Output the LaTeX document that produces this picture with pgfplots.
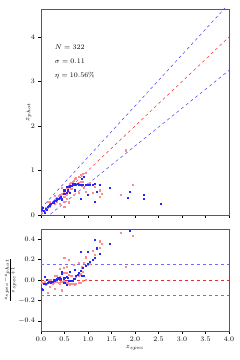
\documentclass[border=0pt]{standalone}
\usepackage{pgfplots}
\usepackage{pgfplotstable}
\pgfplotsset{compat=1.18}
\pgfplotstableread{
zs zp
0.03 0.12
0.05 0.15
0.06 0.10
0.08 0.05
0.10 0.14
0.12 0.12
0.15 0.18
0.18 0.20
0.20 0.22
0.22 0.25
0.25 0.27
0.28 0.28
0.30 0.31
0.32 0.32
0.35 0.34
0.37 0.35
0.38 0.36
0.40 0.38
0.42 0.40
0.45 0.36
0.45 0.33
0.48 0.47
0.50 0.47
0.55 0.62
0.55 0.50
0.58 0.55
0.60 0.62
0.62 0.64
0.65 0.66
0.68 0.70
0.70 0.68
0.72 0.70
0.75 0.68
0.78 0.70
0.80 0.68
0.85 0.68
0.88 0.80
0.90 0.68
0.92 0.85
0.95 0.68
1.00 0.68
1.05 0.68
1.10 0.68
1.15 0.69
1.25 0.68
1.15 0.30
1.00 0.45
0.85 0.35
1.47 0.60
1.90 0.51
1.85 0.38
2.20 0.45
2.20 0.35
2.55 0.25
1.20 0.52
0.50 0.55
0.35 0.35
0.72 0.55
0.62 0.50
}\bluetab
\pgfplotstableread{
zs zp
0.02 0.05
0.05 0.08
0.08 0.10
0.10 0.15
0.12 0.16
0.15 0.15
0.18 0.18
0.20 0.24
0.22 0.22
0.25 0.30
0.28 0.32
0.30 0.33
0.33 0.36
0.35 0.38
0.38 0.42
0.40 0.45
0.42 0.45
0.45 0.48
0.48 0.50
0.50 0.55
0.52 0.55
0.55 0.60
0.58 0.62
0.60 0.66
0.62 0.70
0.65 0.72
0.68 0.75
0.70 0.77
0.72 0.80
0.75 0.82
0.80 0.85
0.85 0.90
0.90 0.92
0.95 0.95
0.30 0.25
0.50 0.40
0.55 0.45
0.60 0.52
0.65 0.58
0.70 0.68
0.75 0.70
0.80 0.72
0.85 0.75
0.90 0.75
1.00 0.70
1.05 0.72
0.95 0.52
1.10 0.50
1.30 0.48
1.25 0.55
0.55 0.35
0.60 0.28
0.70 0.45
0.80 0.50
0.48 0.30
1.70 0.45
1.95 0.68
1.80 1.45
0.50 0.18
0.20 0.28
0.15 0.30
0.30 0.42
0.40 0.25
0.45 0.60
1.25 0.40
1.15 0.62
0.88 0.65
0.92 0.60
0.35 0.30
0.40 0.36
}\redtab
\definecolor{refred}{RGB}{240,40,40}
\definecolor{refblue}{RGB}{110,110,250}
\begin{document}
\begin{tikzpicture}[font=\scriptsize]
\path[use as bounding box] (0,0) rectangle (240pt,360pt);
\pgfplotsset{
  every axis/.style={
    scale only axis, width=188pt, anchor=south west,
    axis line style={black!65},
    tick style={black, line width=0.5pt},
    tick align=outside, tick pos=left,
    major tick length=2.5pt,
    xmin=0, xmax=4,
    xtick={0,0.5,...,4},
    clip=true,
  },
  bluept/.style={only marks, color=blue!85, mark=square*, mark size=0.55pt, mark options={line width=0pt, draw=blue!85, fill=blue!85}},
  redpt/.style={only marks, color=red!45, mark=square*, mark size=0.55pt, mark options={line width=0pt, draw=red!45, fill=red!45}},
}
\begin{axis}[
  at={(41pt,145pt)}, height=206pt,
  ymin=0, ymax=4.63,
  ytick={0,1,2,3,4},
  xticklabels={},
  ylabel={$z_{phot}$},
  ylabel style={at={(axis description cs:-0.065,0.5)}, anchor=center},
]
\addplot[color=red!85, dashed, line width=0.5pt, mark=none] coordinates {(0,0) (4,4)};
\addplot[color=blue!75, dashed, line width=0.5pt, mark=none] coordinates {(0,0.15) (4,4.75)};
\addplot[color=blue!75, dashed, line width=0.5pt, mark=none] coordinates {(0,-0.15) (4,3.25)};
\addplot[redpt] table[x=zs, y=zp] {\redtab};
\addplot[bluept] table[x=zs, y=zp] {\bluetab};
\node[anchor=west] at (axis cs:0.22,3.78) {$N = 322$};
\node[anchor=west] at (axis cs:0.22,3.46) {$\sigma = 0.11$};
\node[anchor=west] at (axis cs:0.22,3.14) {$\eta = 10.56\%$};
\end{axis}
\begin{axis}[
  at={(41pt,29pt)}, height=102pt,
  ymin=-0.5, ymax=0.5,
  ytick={-0.4,-0.2,0,0.2,0.4},
  xticklabel style={/pgf/number format/.cd, fixed, fixed zerofill, precision=1},
  yticklabel style={/pgf/number format/.cd, fixed, fixed zerofill, precision=1},
  xlabel={$z_{spec}$},
  ylabel={\tiny$\frac{z_{spec}-z_{phot}}{z_{spec}+1}$},
  xlabel style={yshift=3pt},
  ylabel style={at={(axis description cs:-0.165,0.5)}, anchor=center},
]
\addplot[draw=refblue, dashed, line width=1.2pt, mark=none] coordinates {(0,0.15) (4,0.15)};
\addplot[draw=refblue, dashed, line width=1.2pt, mark=none] coordinates {(0,-0.15) (4,-0.15)};
\addplot[draw=refred, dashed, line width=0.9pt, mark=none] coordinates {(0,0) (4,0)};
\addplot[redpt] table[x=zs, y expr={(\thisrow{zs}-\thisrow{zp})/(1+\thisrow{zs})}] {\redtab};
\addplot[bluept] table[x=zs, y expr={(\thisrow{zs}-\thisrow{zp})/(1+\thisrow{zs})}] {\bluetab};
\end{axis}
\end{tikzpicture}
\end{document}
